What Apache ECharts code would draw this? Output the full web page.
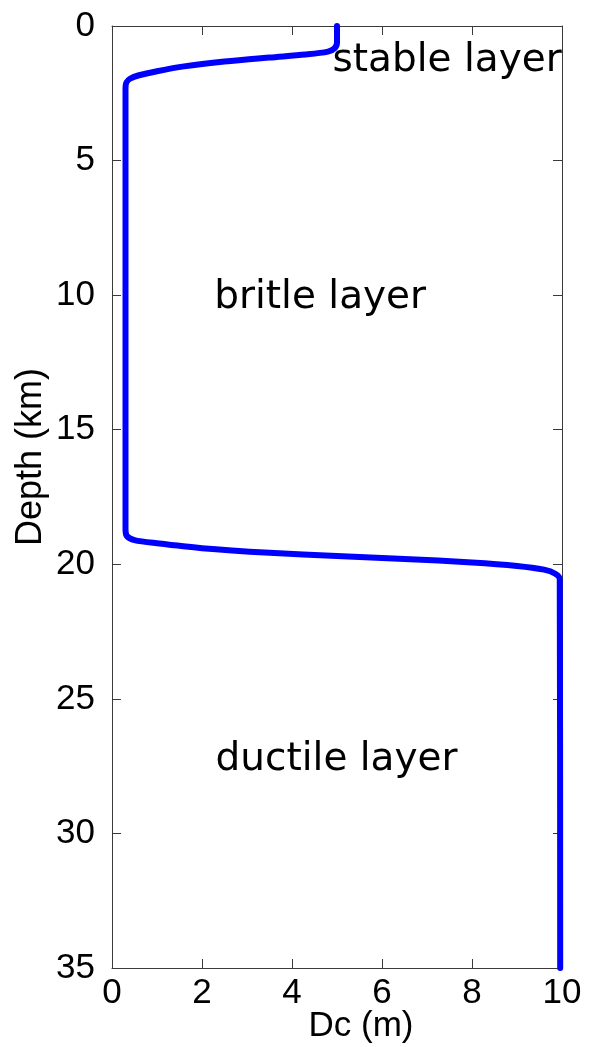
<!DOCTYPE html>
<html>
<head>
<meta charset="utf-8">
<script src="https://cdn.jsdelivr.net/npm/echarts@6/dist/echarts.min.js"></script>
<style>
html,body{margin:0;padding:0;background:#fff;}
#chart{width:595px;height:1047px;}
</style>
</head>
<body>
<div id="chart"></div>
<script>
// Dc (m) values and matching depth (km) values along the profile
const dcValues = [5.0, 5.0, 4.95, 4.8, 4.3, 3.5, 2.5, 1.6, 1.0, 0.6, 0.4, 0.32, 0.3,
                  0.3, 0.33, 0.5, 1.0, 2.0, 3.5, 5.0, 6.5, 8.0, 9.0, 9.6, 9.85, 9.95, 9.96];
const depthValues = [0, 0.6, 0.82, 0.95, 1.06, 1.17, 1.32, 1.5, 1.68, 1.83, 1.96, 2.1, 2.3,
                     18.7, 18.95, 19.1, 19.22, 19.4, 19.57, 19.69, 19.8, 19.93, 20.06, 20.2, 20.35, 20.55, 35];
const xTicks = [0, 2, 4, 6, 8, 10];
const yTicks = [0, 5, 10, 15, 20, 25, 30, 35];
const annotations = [
  {text: 'stable layer', dc: 4.9, depth: 1.3},
  {text: 'britle layer', dc: 2.27, depth: 10.1},
  {text: 'ductile layer', dc: 2.3, depth: 27.25}
];

const chart = echarts.init(document.getElementById('chart'), null, {renderer: 'canvas'});
const lineColor = '#3a3a3a';
const tickFont = {fontFamily: 'Liberation Sans', fontSize: 35, color: '#000'};

function baseAxis(extra) {
  return Object.assign({
    type: 'value',
    axisLine: {show: true, onZero: false, lineStyle: {color: lineColor, width: 1}},
    axisTick: {show: true, inside: true, length: 9, lineStyle: {color: lineColor, width: 1}},
    splitLine: {show: false},
  }, extra);
}

const option = {
  animation: false,
  backgroundColor: '#fff',
  grid: {left: 112, top: 26, width: 450, height: 942, containLabel: false},
  xAxis: [
    baseAxis({position: 'bottom', min: xTicks[0], max: xTicks[xTicks.length - 1], interval: 2,
      axisLabel: Object.assign({margin: 8}, tickFont)}),
    baseAxis({position: 'top', min: xTicks[0], max: xTicks[xTicks.length - 1], interval: 2,
      axisLabel: {show: false}})
  ],
  yAxis: [
    baseAxis({position: 'left', inverse: true, min: yTicks[0], max: yTicks[yTicks.length - 1], interval: 5,
      axisLabel: Object.assign({margin: 17}, tickFont)}),
    baseAxis({position: 'right', inverse: true, min: yTicks[0], max: yTicks[yTicks.length - 1], interval: 5,
      axisLabel: {show: false}})
  ],
  series: [{
    type: 'line',
    xAxisIndex: 0,
    yAxisIndex: 0,
    data: dcValues.map((v, i) => [v, depthValues[i]]),
    showSymbol: false,
    smooth: 0.3,
    clip: false,
    lineStyle: {color: '#0000ff', width: 6, cap: 'round', join: 'round'}
  }, {
    type: 'scatter',
    xAxisIndex: 0,
    yAxisIndex: 0,
    symbolSize: 0,
    silent: true,
    itemStyle: {opacity: 1},
    label: {show: true, position: 'right', distance: 0, opacity: 1,
            fontFamily: 'DejaVu Sans', fontSize: 39, color: '#000', textBorderWidth: 0},
    data: annotations.map(a => ({value: [a.dc, a.depth],
      label: {formatter: a.text}})),
  }],
  graphic: [
    {type: 'text', x: 361, y: 1026, style: {text: 'Dc (m)', fontFamily: 'Liberation Sans', fontSize: 35, fill: '#000', align: 'center', verticalAlign: 'middle'}},
    {type: 'text', x: 31, y: 457, rotation: Math.PI / 2,
      style: {text: 'Depth (km)', fontFamily: 'Liberation Sans', fontSize: 36, fill: '#000', align: 'center', verticalAlign: 'middle'}}
  ]
};
chart.setOption(option);
</script>
</body>
</html>
